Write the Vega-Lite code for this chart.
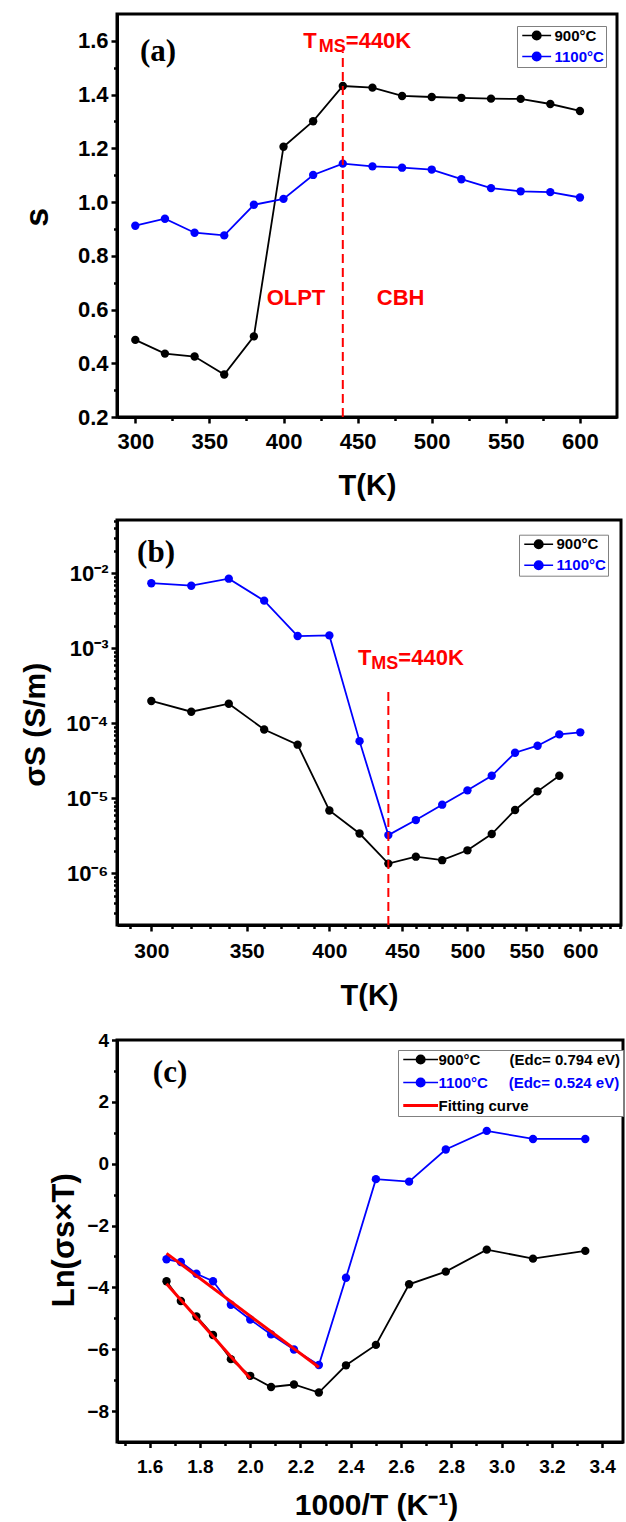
{
  "$schema": "https://vega.github.io/schema/vega-lite/v6.json",
  "background": "white",
  "padding": {"left": 18, "top": 12, "right": 0, "bottom": 0},
  "datasets": {
    "panelA": [
      {"T": 300, "v": 0.487, "sample": "900°C"},
      {"T": 320, "v": 0.436, "sample": "900°C"},
      {"T": 340, "v": 0.425, "sample": "900°C"},
      {"T": 360, "v": 0.358, "sample": "900°C"},
      {"T": 380, "v": 0.5, "sample": "900°C"},
      {"T": 400, "v": 1.206, "sample": "900°C"},
      {"T": 420, "v": 1.301, "sample": "900°C"},
      {"T": 440, "v": 1.432, "sample": "900°C"},
      {"T": 460, "v": 1.426, "sample": "900°C"},
      {"T": 480, "v": 1.395, "sample": "900°C"},
      {"T": 500, "v": 1.391, "sample": "900°C"},
      {"T": 520, "v": 1.388, "sample": "900°C"},
      {"T": 540, "v": 1.385, "sample": "900°C"},
      {"T": 560, "v": 1.384, "sample": "900°C"},
      {"T": 580, "v": 1.365, "sample": "900°C"},
      {"T": 600, "v": 1.339, "sample": "900°C"},
      {"T": 300, "v": 0.912, "sample": "1100°C"},
      {"T": 320, "v": 0.938, "sample": "1100°C"},
      {"T": 340, "v": 0.886, "sample": "1100°C"},
      {"T": 360, "v": 0.876, "sample": "1100°C"},
      {"T": 380, "v": 0.99, "sample": "1100°C"},
      {"T": 400, "v": 1.012, "sample": "1100°C"},
      {"T": 420, "v": 1.101, "sample": "1100°C"},
      {"T": 440, "v": 1.143, "sample": "1100°C"},
      {"T": 460, "v": 1.133, "sample": "1100°C"},
      {"T": 480, "v": 1.128, "sample": "1100°C"},
      {"T": 500, "v": 1.121, "sample": "1100°C"},
      {"T": 520, "v": 1.085, "sample": "1100°C"},
      {"T": 540, "v": 1.052, "sample": "1100°C"},
      {"T": 560, "v": 1.04, "sample": "1100°C"},
      {"T": 580, "v": 1.037, "sample": "1100°C"},
      {"T": 600, "v": 1.017, "sample": "1100°C"}
    ],
    "panelB": [
      {"T": 300, "v": 1.99e-4, "sample": "900°C"},
      {"T": 320, "v": 1.43e-4, "sample": "900°C"},
      {"T": 340, "v": 1.83e-4, "sample": "900°C"},
      {"T": 360, "v": 8.3e-5, "sample": "900°C"},
      {"T": 380, "v": 5.2e-5, "sample": "900°C"},
      {"T": 400, "v": 6.9e-6, "sample": "900°C"},
      {"T": 420, "v": 3.4e-6, "sample": "900°C"},
      {"T": 440, "v": 1.35e-6, "sample": "900°C"},
      {"T": 460, "v": 1.67e-6, "sample": "900°C"},
      {"T": 480, "v": 1.5e-6, "sample": "900°C"},
      {"T": 500, "v": 2.03e-6, "sample": "900°C"},
      {"T": 520, "v": 3.35e-6, "sample": "900°C"},
      {"T": 540, "v": 7.0e-6, "sample": "900°C"},
      {"T": 560, "v": 1.24e-5, "sample": "900°C"},
      {"T": 580, "v": 2.0e-5, "sample": "900°C"},
      {"T": 300, "v": 7.4e-3, "sample": "1100°C"},
      {"T": 320, "v": 6.85e-3, "sample": "1100°C"},
      {"T": 340, "v": 8.5e-3, "sample": "1100°C"},
      {"T": 360, "v": 4.33e-3, "sample": "1100°C"},
      {"T": 380, "v": 1.46e-3, "sample": "1100°C"},
      {"T": 400, "v": 1.49e-3, "sample": "1100°C"},
      {"T": 420, "v": 5.8e-5, "sample": "1100°C"},
      {"T": 440, "v": 3.24e-6, "sample": "1100°C"},
      {"T": 460, "v": 5.14e-6, "sample": "1100°C"},
      {"T": 480, "v": 8.24e-6, "sample": "1100°C"},
      {"T": 500, "v": 1.28e-5, "sample": "1100°C"},
      {"T": 520, "v": 2.0e-5, "sample": "1100°C"},
      {"T": 540, "v": 4.06e-5, "sample": "1100°C"},
      {"T": 560, "v": 5.04e-5, "sample": "1100°C"},
      {"T": 580, "v": 7.13e-5, "sample": "1100°C"},
      {"T": 600, "v": 7.6e-5, "sample": "1100°C"}
    ],
    "panelC": [
      {"invT": 1.667, "v": -3.8, "sample": "900°C"},
      {"invT": 1.724, "v": -4.44, "sample": "900°C"},
      {"invT": 1.786, "v": -4.94, "sample": "900°C"},
      {"invT": 1.852, "v": -5.54, "sample": "900°C"},
      {"invT": 1.923, "v": -6.32, "sample": "900°C"},
      {"invT": 2.0, "v": -6.86, "sample": "900°C"},
      {"invT": 2.083, "v": -7.22, "sample": "900°C"},
      {"invT": 2.174, "v": -7.14, "sample": "900°C"},
      {"invT": 2.273, "v": -7.4, "sample": "900°C"},
      {"invT": 2.381, "v": -6.52, "sample": "900°C"},
      {"invT": 2.5, "v": -5.86, "sample": "900°C"},
      {"invT": 2.632, "v": -3.9, "sample": "900°C"},
      {"invT": 2.778, "v": -3.49, "sample": "900°C"},
      {"invT": 2.941, "v": -2.78, "sample": "900°C"},
      {"invT": 3.125, "v": -3.07, "sample": "900°C"},
      {"invT": 3.333, "v": -2.82, "sample": "900°C"},
      {"invT": 1.667, "v": -3.09, "sample": "1100°C"},
      {"invT": 1.724, "v": -3.18, "sample": "1100°C"},
      {"invT": 1.786, "v": -3.56, "sample": "1100°C"},
      {"invT": 1.852, "v": -3.8, "sample": "1100°C"},
      {"invT": 1.923, "v": -4.56, "sample": "1100°C"},
      {"invT": 2.0, "v": -5.04, "sample": "1100°C"},
      {"invT": 2.083, "v": -5.52, "sample": "1100°C"},
      {"invT": 2.174, "v": -6.01, "sample": "1100°C"},
      {"invT": 2.273, "v": -6.51, "sample": "1100°C"},
      {"invT": 2.381, "v": -3.69, "sample": "1100°C"},
      {"invT": 2.5, "v": -0.5, "sample": "1100°C"},
      {"invT": 2.632, "v": -0.58, "sample": "1100°C"},
      {"invT": 2.778, "v": 0.46, "sample": "1100°C"},
      {"invT": 2.941, "v": 1.06, "sample": "1100°C"},
      {"invT": 3.125, "v": 0.8, "sample": "1100°C"},
      {"invT": 3.333, "v": 0.8, "sample": "1100°C"}
    ],
    "fitC": [
      {"invT": 1.667, "v": -3.88, "sample": "Fitting curve", "fit": "900"},
      {"invT": 2.0, "v": -6.95, "sample": "Fitting curve", "fit": "900"},
      {"invT": 1.667, "v": -2.9, "sample": "Fitting curve", "fit": "1100"},
      {"invT": 2.273, "v": -6.585, "sample": "Fitting curve", "fit": "1100"}
    ]
  },
  "vconcat": [
    {
      "vconcat": [
        {
          "width": 500,
          "height": 403,
          "encoding": {
            "x": {
              "field": "T", "type": "quantitative",
              "scale": {"domain": [287.65, 625], "nice": false, "zero": false},
              "axis": {
                "title": "T(K)",
                "values": [300, 325, 350, 375, 400, 425, 450, 475, 500, 525, 550, 575, 600],
                "labelExpr": "datum.value % 50 === 0 ? format(datum.value, 'd') : ''",
                "tickSize": {"condition": {"test": "datum.value % 50 === 0", "value": 6}, "value": 3.5},
                "labelFontSize": 22, "labelPadding": 8,
                "titleFontSize": 29, "titleY": 68, "titleBaseline": "middle"
              }
            },
            "y": {
              "field": "v", "type": "quantitative",
              "scale": {"domain": [0.2, 1.7], "nice": false, "zero": false},
              "axis": {
                "title": "s",
                "values": [0.2, 0.3, 0.4, 0.5, 0.6, 0.7, 0.8, 0.9, 1.0, 1.1, 1.2, 1.3, 1.4, 1.5, 1.6],
                "labelExpr": "round(datum.value * 10) % 2 === 0 ? format(datum.value, '.1f') : ''",
                "tickSize": {"condition": {"test": "round(datum.value * 10) % 2 === 0", "value": 6}, "value": 3.5},
                "labelFontSize": 22, "labelPadding": 3,
                "titleFontSize": 34, "titleX": -80, "titleY": 202.7, "titleAngle": -90,
                "titleAlign": "center", "titleBaseline": "middle"
              }
            }
          },
          "layer": [
            {
              "data": {"name": "panelA"},
              "mark": {"type": "line", "strokeWidth": 1.8},
              "encoding": {
                "color": {
                  "field": "sample", "type": "nominal",
                  "scale": {"domain": ["900°C", "1100°C"], "range": ["#000000", "#0000ff"]},
                  "legend": {
                    "title": null, "orient": "none", "legendX": 400, "legendY": 12,
                    "strokeColor": "#808080", "fillColor": "white", "padding": 2,
                    "symbolType": "M-1,0H5.8M1.4,0A1,1 0 1,1 3.4,0A1,1 0 1,1 1.4,0Z",
                    "symbolSize": 72, "symbolStrokeWidth": 1.6,
                    "labelFontSize": 15, "labelOffset": 20.5, "rowPadding": 5,
                    "encode": {
                      "symbols": {"update": {
                        "fill": {"signal": "datum.value === '900°C' ? '#000000' : '#0000ff'"},
                        "stroke": {"signal": "datum.value === '900°C' ? '#000000' : '#0000ff'"},
                        "opacity": {"value": 1}
                      }},
                      "labels": {"update": {"fill": {"signal": "datum.value === '900°C' ? '#000000' : '#0000ff'"}}}
                    }
                  }
                }
              }
            },
            {
              "data": {"name": "panelA"},
              "mark": {"type": "point", "filled": true, "size": 70, "opacity": 1},
              "encoding": {
                "color": {
                  "field": "sample", "type": "nominal",
                  "scale": {"domain": ["900°C", "1100°C"], "range": ["#000000", "#0000ff"]},
                  "legend": {
                    "title": null, "orient": "none", "legendX": 400, "legendY": 12,
                    "strokeColor": "#808080", "fillColor": "white", "padding": 2,
                    "symbolType": "M-1,0H5.8M1.4,0A1,1 0 1,1 3.4,0A1,1 0 1,1 1.4,0Z",
                    "symbolSize": 72, "symbolStrokeWidth": 1.6,
                    "labelFontSize": 15, "labelOffset": 20.5, "rowPadding": 5,
                    "encode": {
                      "symbols": {"update": {
                        "fill": {"signal": "datum.value === '900°C' ? '#000000' : '#0000ff'"},
                        "stroke": {"signal": "datum.value === '900°C' ? '#000000' : '#0000ff'"},
                        "opacity": {"value": 1}
                      }},
                      "labels": {"update": {"fill": {"signal": "datum.value === '900°C' ? '#000000' : '#0000ff'"}}}
                    }
                  }
                }
              }
            },
            {
              "data": {"values": [{"T": 440, "v": 0.2, "v2": 1.56}]},
              "mark": {"type": "rule", "color": "#ff0000", "strokeWidth": 2, "strokeDash": [9, 5]},
              "encoding": {"y2": {"field": "v2"}}
            },
            {
              "data": {"values": [{"T": 315.3, "v": 1.56, "label": "(a)"}]},
              "mark": {"type": "text", "font": "Liberation Serif", "fontWeight": "bold", "fontSize": 31, "color": "#000000"},
              "encoding": {"text": {"field": "label"}}
            },
            {
              "data": {"values": [{"T": 408.4, "v": 0.643, "label": "OLPT"}, {"T": 479, "v": 0.643, "label": "CBH"}]},
              "mark": {"type": "text", "fontWeight": "bold", "fontSize": 22, "color": "#ff0000"},
              "encoding": {"text": {"field": "label"}}
            },
            {
              "data": {"values": [{"T": 440, "v": 1.6, "label": "T"}]},
              "mark": {"type": "text", "fontWeight": "bold", "fontSize": 22, "color": "#ff0000", "align": "right", "dx": -26},
              "encoding": {"text": {"field": "label"}}
            },
            {
              "data": {"values": [{"T": 440, "v": 1.6, "label": "MS"}]},
              "mark": {"type": "text", "fontWeight": "bold", "fontSize": 18, "color": "#ff0000", "align": "right", "dx": 3, "dy": 6},
              "encoding": {"text": {"field": "label"}}
            },
            {
              "data": {"values": [{"T": 440, "v": 1.6, "label": "=440K"}]},
              "mark": {"type": "text", "fontWeight": "bold", "fontSize": 22, "color": "#ff0000", "align": "left", "dx": 3},
              "encoding": {"text": {"field": "label"}}
            }
          ]
        },
        {
          "width": 504,
          "height": 405,
          "encoding": {
            "x": {
              "field": "T", "type": "quantitative",
              "scale": {"type": "log", "domain": [283.81, 640.8], "nice": false},
              "axis": {
                "title": "T(K)",
                "values": [290, 300, 310, 320, 330, 340, 350, 360, 370, 380, 390, 400, 410, 420, 430, 440, 450, 460, 470, 480, 490, 500, 510, 520, 530, 540, 550, 560, 570, 580, 590, 600, 610, 620, 630, 640],
                "labelExpr": "datum.value % 50 === 0 ? format(datum.value, 'd') : ''",
                "tickSize": {"condition": {"test": "datum.value % 50 === 0", "value": 6}, "value": 3.5},
                "labelFontSize": 21, "labelPadding": 9,
                "titleFontSize": 29, "titleY": 70.7, "titleBaseline": "middle"
              }
            },
            "y": {
              "field": "v", "type": "quantitative",
              "scale": {"type": "log", "domain": [2.05e-7, 0.0515], "nice": false},
              "axis": {
                "title": "σS (S/m)",
                "values": [3e-7, 4e-7, 5e-7, 6e-7, 7e-7, 8e-7, 9e-7, 1e-6, 2e-6, 3e-6, 4e-6, 5e-6, 6e-6, 7e-6, 8e-6, 9e-6, 1e-5, 2e-5, 3e-5, 4e-5, 5e-5, 6e-5, 7e-5, 8e-5, 9e-5, 1e-4, 2e-4, 3e-4, 4e-4, 5e-4, 6e-4, 7e-4, 8e-4, 9e-4, 1e-3, 2e-3, 3e-3, 4e-3, 5e-3, 6e-3, 7e-3, 8e-3, 9e-3, 0.01, 0.02, 0.03, 0.04, 0.05],
                "labelExpr": "abs(log(datum.value) / LN10 - round(log(datum.value) / LN10)) < 0.01 ? '10⁻' + ['⁰','¹','²','³','⁴','⁵','⁶','⁷','⁸','⁹'][-round(log(datum.value) / LN10)] : ''",
                "tickSize": {"condition": {"test": "abs(log(datum.value) / LN10 - round(log(datum.value) / LN10)) < 0.01", "value": 6}, "value": 3.5},
                "labelFontSize": 22, "labelPadding": 3,
                "titleFontSize": 30, "titleX": -81.3, "titleY": 204.2, "titleAngle": -90,
                "titleAlign": "center", "titleBaseline": "middle"
              }
            }
          },
          "layer": [
            {
              "data": {"name": "panelB"},
              "mark": {"type": "line", "strokeWidth": 1.8},
              "encoding": {
                "color": {
                  "field": "sample", "type": "nominal",
                  "scale": {"domain": ["900°C", "1100°C"], "range": ["#000000", "#0000ff"]},
                  "legend": {
                    "title": null, "orient": "none", "legendX": 402, "legendY": 14.7,
                    "strokeColor": "#808080", "fillColor": "white", "padding": 2,
                    "symbolType": "M-1,0H5.8M1.4,0A1,1 0 1,1 3.4,0A1,1 0 1,1 1.4,0Z",
                    "symbolSize": 72, "symbolStrokeWidth": 1.6,
                    "labelFontSize": 15, "labelOffset": 20.5, "rowPadding": 5,
                    "encode": {
                      "symbols": {"update": {
                        "fill": {"signal": "datum.value === '900°C' ? '#000000' : '#0000ff'"},
                        "stroke": {"signal": "datum.value === '900°C' ? '#000000' : '#0000ff'"},
                        "opacity": {"value": 1}
                      }},
                      "labels": {"update": {"fill": {"signal": "datum.value === '900°C' ? '#000000' : '#0000ff'"}}}
                    }
                  }
                }
              }
            },
            {
              "data": {"name": "panelB"},
              "mark": {"type": "point", "filled": true, "size": 70, "opacity": 1},
              "encoding": {
                "color": {
                  "field": "sample", "type": "nominal",
                  "scale": {"domain": ["900°C", "1100°C"], "range": ["#000000", "#0000ff"]},
                  "legend": {
                    "title": null, "orient": "none", "legendX": 402, "legendY": 14.7,
                    "strokeColor": "#808080", "fillColor": "white", "padding": 2,
                    "symbolType": "M-1,0H5.8M1.4,0A1,1 0 1,1 3.4,0A1,1 0 1,1 1.4,0Z",
                    "symbolSize": 72, "symbolStrokeWidth": 1.6,
                    "labelFontSize": 15, "labelOffset": 20.5, "rowPadding": 5,
                    "encode": {
                      "symbols": {"update": {
                        "fill": {"signal": "datum.value === '900°C' ? '#000000' : '#0000ff'"},
                        "stroke": {"signal": "datum.value === '900°C' ? '#000000' : '#0000ff'"},
                        "opacity": {"value": 1}
                      }},
                      "labels": {"update": {"fill": {"signal": "datum.value === '900°C' ? '#000000' : '#0000ff'"}}}
                    }
                  }
                }
              }
            },
            {
              "data": {"values": [{"T": 440, "v": 2.05e-7, "v2": 3.0e-4}]},
              "mark": {"type": "rule", "color": "#ff0000", "strokeWidth": 2, "strokeDash": [9, 5]},
              "encoding": {"y2": {"field": "v2"}}
            },
            {
              "data": {"values": [{"T": 302.3, "v": 0.0185, "label": "(b)"}]},
              "mark": {"type": "text", "font": "Liberation Serif", "fontWeight": "bold", "fontSize": 31, "color": "#000000"},
              "encoding": {"text": {"field": "label"}}
            },
            {
              "data": {"values": [{"T": 440, "v": 7.52e-4, "label": "T"}]},
              "mark": {"type": "text", "fontWeight": "bold", "fontSize": 22, "color": "#ff0000", "align": "right", "dx": -17},
              "encoding": {"text": {"field": "label"}}
            },
            {
              "data": {"values": [{"T": 440, "v": 7.52e-4, "label": "MS"}]},
              "mark": {"type": "text", "fontWeight": "bold", "fontSize": 18, "color": "#ff0000", "align": "right", "dx": 10, "dy": 6},
              "encoding": {"text": {"field": "label"}}
            },
            {
              "data": {"values": [{"T": 440, "v": 7.52e-4, "label": "=440K"}]},
              "mark": {"type": "text", "fontWeight": "bold", "fontSize": 22, "color": "#ff0000", "align": "left", "dx": 10},
              "encoding": {"text": {"field": "label"}}
            }
          ]
        }
      ],
      "spacing": 6,
      "resolve": {"scale": {"color": "independent"}, "legend": {"color": "independent"}}
    },
    {
      "width": 506,
      "height": 402,
      "encoding": {
        "x": {
          "field": "invT", "type": "quantitative",
          "scale": {"domain": [1.47, 3.483], "nice": false, "zero": false},
          "axis": {
            "title": "1000/T (K⁻¹)",
            "values": [1.5, 1.6, 1.7, 1.8, 1.9, 2.0, 2.1, 2.2, 2.3, 2.4, 2.5, 2.6, 2.7, 2.8, 2.9, 3.0, 3.1, 3.2, 3.3, 3.4],
            "labelExpr": "round(datum.value * 10) % 2 === 0 ? format(datum.value, '.1f') : ''",
            "tickSize": {"condition": {"test": "round(datum.value * 10) % 2 === 0", "value": 5.5}, "value": 3.5},
            "labelFontSize": 19, "labelPadding": 10,
            "titleFontSize": 30, "titleX": 259, "titleY": 63.5, "titleAlign": "center", "titleBaseline": "middle"
          }
        },
        "y": {
          "field": "v", "type": "quantitative",
          "scale": {"domain": [-9, 4], "nice": false, "zero": false},
          "axis": {
            "title": "Ln(σs×T)",
            "values": [-8, -7, -6, -5, -4, -3, -2, -1, 0, 1, 2, 3, 4],
            "labelExpr": "datum.value % 2 === 0 ? format(datum.value, 'd') : ''",
            "tickSize": {"condition": {"test": "datum.value % 2 === 0", "value": 5.5}, "value": 3.5},
            "labelFontSize": 19, "labelPadding": 3,
            "titleFontSize": 31, "titleX": -53, "titleY": 199.8, "titleAngle": -90,
            "titleAlign": "center", "titleBaseline": "middle"
          }
        }
      },
      "layer": [
        {
          "data": {"name": "panelC"},
          "mark": {"type": "line", "strokeWidth": 1.8},
          "encoding": {
            "color": {
              "field": "sample", "type": "nominal",
              "scale": {"domain": ["900°C", "1100°C", "Fitting curve"], "range": ["#000000", "#0000ff", "#ff0000"]},
              "legend": {
                "title": null, "orient": "none", "legendX": 281, "legendY": 10,
                "strokeColor": "#808080", "fillColor": "white", "padding": 2,
                "symbolType": "M-1,0H7.2M2.1,0A1,1 0 1,1 4.1,0A1,1 0 1,1 2.1,0Z",
                "symbolSize": 72, "symbolStrokeWidth": 1.6,
                "labelFontSize": 15, "labelOffset": 23.5, "rowPadding": 7, "labelLimit": 400,
                "labelExpr": "datum.value === '900°C' ? '900°C\u00a0\u00a0\u00a0\u00a0\u00a0\u00a0\u00a0(Edc= 0.794 eV)' : datum.value === '1100°C' ? '1100°C\u00a0\u00a0\u00a0\u00a0\u00a0(Edc= 0.524 eV)' : datum.label",
                "encode": {
                  "symbols": {"update": {
                    "shape": {"signal": "datum.value === 'Fitting curve' ? 'M-1,0H7.2' : 'M-1,0H7.2M2.1,0A1,1 0 1,1 4.1,0A1,1 0 1,1 2.1,0Z'"},
                    "fill": {"signal": "datum.value === '900°C' ? '#000000' : datum.value === '1100°C' ? '#0000ff' : 'transparent'"},
                    "stroke": {"signal": "datum.value === '900°C' ? '#000000' : datum.value === '1100°C' ? '#0000ff' : '#ff0000'"},
                    "strokeWidth": {"signal": "datum.value === 'Fitting curve' ? 3 : 1.6"},
                    "opacity": {"value": 1}
                  }},
                  "labels": {"update": {"fill": {"signal": "datum.value === '1100°C' ? '#0000ff' : '#000000'"}}}
                }
              }
            }
          }
        },
        {
          "data": {"name": "panelC"},
          "mark": {"type": "point", "filled": true, "size": 70, "opacity": 1},
          "encoding": {
            "color": {
              "field": "sample", "type": "nominal",
              "scale": {"domain": ["900°C", "1100°C", "Fitting curve"], "range": ["#000000", "#0000ff", "#ff0000"]},
              "legend": {
                "title": null, "orient": "none", "legendX": 281, "legendY": 10,
                "strokeColor": "#808080", "fillColor": "white", "padding": 2,
                "symbolType": "M-1,0H7.2M2.1,0A1,1 0 1,1 4.1,0A1,1 0 1,1 2.1,0Z",
                "symbolSize": 72, "symbolStrokeWidth": 1.6,
                "labelFontSize": 15, "labelOffset": 23.5, "rowPadding": 7, "labelLimit": 400,
                "labelExpr": "datum.value === '900°C' ? '900°C\u00a0\u00a0\u00a0\u00a0\u00a0\u00a0\u00a0(Edc= 0.794 eV)' : datum.value === '1100°C' ? '1100°C\u00a0\u00a0\u00a0\u00a0\u00a0(Edc= 0.524 eV)' : datum.label",
                "encode": {
                  "symbols": {"update": {
                    "shape": {"signal": "datum.value === 'Fitting curve' ? 'M-1,0H7.2' : 'M-1,0H7.2M2.1,0A1,1 0 1,1 4.1,0A1,1 0 1,1 2.1,0Z'"},
                    "fill": {"signal": "datum.value === '900°C' ? '#000000' : datum.value === '1100°C' ? '#0000ff' : 'transparent'"},
                    "stroke": {"signal": "datum.value === '900°C' ? '#000000' : datum.value === '1100°C' ? '#0000ff' : '#ff0000'"},
                    "strokeWidth": {"signal": "datum.value === 'Fitting curve' ? 3 : 1.6"},
                    "opacity": {"value": 1}
                  }},
                  "labels": {"update": {"fill": {"signal": "datum.value === '1100°C' ? '#0000ff' : '#000000'"}}}
                }
              }
            }
          }
        },
        {
          "data": {"name": "fitC"},
          "mark": {"type": "line", "strokeWidth": 3},
          "encoding": {
            "color": {
              "field": "sample", "type": "nominal",
              "scale": {"domain": ["900°C", "1100°C", "Fitting curve"], "range": ["#000000", "#0000ff", "#ff0000"]},
              "legend": {
                "title": null, "orient": "none", "legendX": 281, "legendY": 10,
                "strokeColor": "#808080", "fillColor": "white", "padding": 2,
                "symbolType": "M-1,0H7.2M2.1,0A1,1 0 1,1 4.1,0A1,1 0 1,1 2.1,0Z",
                "symbolSize": 72, "symbolStrokeWidth": 1.6,
                "labelFontSize": 15, "labelOffset": 23.5, "rowPadding": 7, "labelLimit": 400,
                "labelExpr": "datum.value === '900°C' ? '900°C\u00a0\u00a0\u00a0\u00a0\u00a0\u00a0\u00a0(Edc= 0.794 eV)' : datum.value === '1100°C' ? '1100°C\u00a0\u00a0\u00a0\u00a0\u00a0(Edc= 0.524 eV)' : datum.label",
                "encode": {
                  "symbols": {"update": {
                    "shape": {"signal": "datum.value === 'Fitting curve' ? 'M-1,0H7.2' : 'M-1,0H7.2M2.1,0A1,1 0 1,1 4.1,0A1,1 0 1,1 2.1,0Z'"},
                    "fill": {"signal": "datum.value === '900°C' ? '#000000' : datum.value === '1100°C' ? '#0000ff' : 'transparent'"},
                    "stroke": {"signal": "datum.value === '900°C' ? '#000000' : datum.value === '1100°C' ? '#0000ff' : '#ff0000'"},
                    "strokeWidth": {"signal": "datum.value === 'Fitting curve' ? 3 : 1.6"},
                    "opacity": {"value": 1}
                  }},
                  "labels": {"update": {"fill": {"signal": "datum.value === '1100°C' ? '#0000ff' : '#000000'"}}}
                }
              }
            },
            "detail": {"field": "fit"}
          }
        },
        {
          "data": {"values": [{"invT": 1.681, "v": 2.92, "label": "(c)"}]},
          "mark": {"type": "text", "font": "Liberation Serif", "fontWeight": "bold", "fontSize": 31, "color": "#000000"},
          "encoding": {"text": {"field": "label"}}
        }
      ]
    }
  ],
  "spacing": 16,
  "resolve": {"scale": {"color": "independent"}, "legend": {"color": "independent"}},
  "config": {
    "font": "Liberation Sans",
    "view": {"stroke": "#000000", "strokeWidth": 3},
    "axis": {
      "domainColor": "#000000", "domainWidth": 3,
      "tickColor": "#000000", "tickWidth": 2.5,
      "labelColor": "#000000", "titleColor": "#000000",
      "labelFont": "Liberation Sans", "titleFont": "Liberation Sans",
      "labelFontWeight": "bold", "titleFontWeight": "bold",
      "grid": false, "labelOverlap": false, "labelFlush": false
    },
    "legend": {"labelFont": "Liberation Sans", "labelFontWeight": "bold", "labelLimit": 400},
    "text": {"font": "Liberation Sans"}
  }
}
